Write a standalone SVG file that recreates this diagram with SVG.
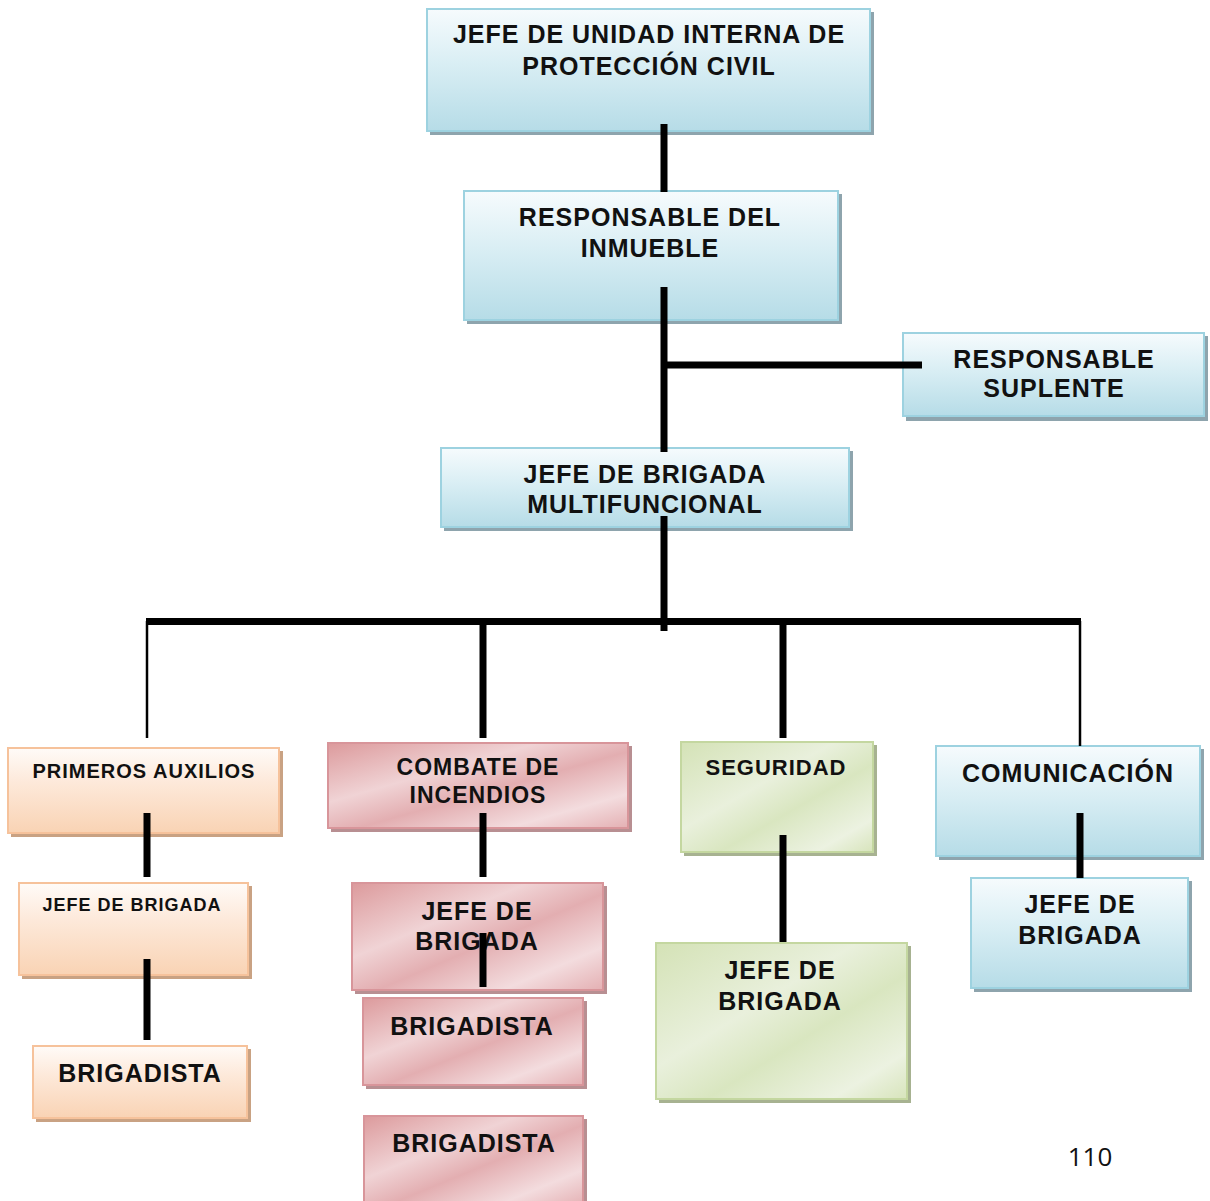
<svg xmlns="http://www.w3.org/2000/svg" width="1210" height="1201" viewBox="0 0 1210 1201">
<defs>
<linearGradient id="gBlue" x1="0" y1="0" x2="0" y2="1">
<stop offset="0" stop-color="#f6fbfd"/><stop offset="0.45" stop-color="#d9eef4"/><stop offset="1" stop-color="#b6dce7"/>
</linearGradient>
<linearGradient id="gOrange" x1="0" y1="0" x2="0" y2="1">
<stop offset="0" stop-color="#fffbf8"/><stop offset="0.4" stop-color="#fde9da"/><stop offset="1" stop-color="#f9d3b4"/>
</linearGradient>
<linearGradient id="gRed" x1="0" y1="0" x2="1" y2="1">
<stop offset="0" stop-color="#dc9a9c"/><stop offset="0.35" stop-color="#f0d3d5"/><stop offset="0.55" stop-color="#e3aeb1"/><stop offset="0.8" stop-color="#f3dcde"/><stop offset="1" stop-color="#e4b0b3"/>
</linearGradient>
<linearGradient id="gGreen" x1="0" y1="0" x2="1" y2="1">
<stop offset="0" stop-color="#d4e2b6"/><stop offset="0.4" stop-color="#e9f0dc"/><stop offset="0.6" stop-color="#d9e6c0"/><stop offset="0.85" stop-color="#ecf2e1"/><stop offset="1" stop-color="#d7e4bb"/>
</linearGradient>
</defs>
<style>
.t{font-family:"Liberation Sans",Arial,sans-serif;font-weight:bold;fill:#111;text-anchor:middle;letter-spacing:1px}
.blue{fill:url(#gBlue);stroke:#9dd2e0;stroke-width:2}
.orange{fill:url(#gOrange);stroke:#f6c29b;stroke-width:2}
.red{fill:url(#gRed);stroke:#d8959a;stroke-width:2}
.green{fill:url(#gGreen);stroke:#c4d7a0;stroke-width:2}
.sb{fill:#8ea4ad}.so{fill:#c9a283}.sr{fill:#b88f92}.sg{fill:#a7b291}
.c{stroke:#000;stroke-width:7;fill:none}
.cn{stroke:#000;stroke-width:2.5;fill:none}
</style>
<rect width="1210" height="1201" fill="#fff"/>

<g id="jefe-unidad">
<rect class="sb" x="430" y="12" width="444" height="123"/>
<rect class="blue" x="427" y="9" width="443" height="122"/>
<text class="t" font-size="25" x="649" y="43">JEFE DE UNIDAD INTERNA DE</text>
<text class="t" font-size="25" x="649" y="75">PROTECCIÓN CIVIL</text>
</g>

<g id="responsable-inmueble">
<rect class="sb" x="467" y="194" width="375" height="130"/>
<rect class="blue" x="464" y="191" width="374" height="129"/>
<text class="t" font-size="25" x="650" y="226">RESPONSABLE DEL</text>
<text class="t" font-size="25" x="650" y="257">INMUEBLE</text>
</g>

<g id="responsable-suplente">
<rect class="sb" x="906" y="336" width="302" height="85"/>
<rect class="blue" x="903" y="333" width="301" height="83"/>
<text class="t" font-size="25" x="1054" y="368">RESPONSABLE</text>
<text class="t" font-size="25" x="1054" y="397">SUPLENTE</text>
</g>

<g id="jefe-multifuncional">
<rect class="sb" x="444" y="451" width="409" height="80"/>
<rect class="blue" x="441" y="448" width="408" height="79"/>
<text class="t" font-size="25" x="645" y="483">JEFE DE BRIGADA</text>
<text class="t" font-size="25" x="645" y="513">MULTIFUNCIONAL</text>
</g>

<g id="primeros-auxilios">
<rect class="so" x="11" y="751" width="272" height="86"/>
<rect class="orange" x="8" y="748" width="271" height="85"/>
<text class="t" font-size="20" x="144" y="778">PRIMEROS AUXILIOS</text>
</g>

<g id="pa-jefe">
<rect class="so" x="22" y="886" width="230" height="93"/>
<rect class="orange" x="19" y="883" width="229" height="92"/>
<text class="t" font-size="18" x="132" y="911">JEFE DE BRIGADA</text>
</g>

<g id="pa-brigadista">
<rect class="so" x="36" y="1049" width="215" height="73"/>
<rect class="orange" x="33" y="1046" width="214" height="72"/>
<text class="t" font-size="25" x="140" y="1082">BRIGADISTA</text>
</g>

<g id="combate-incendios">
<rect class="sr" x="331" y="746" width="301" height="86"/>
<rect class="red" x="328" y="743" width="300" height="85"/>
<text class="t" font-size="23" x="478" y="775">COMBATE DE</text>
<text class="t" font-size="23" x="478" y="803">INCENDIOS</text>
</g>

<g id="ci-jefe">
<rect class="sr" x="355" y="886" width="252" height="108"/>
<rect class="red" x="352" y="883" width="251" height="107"/>
<text class="t" font-size="25" x="477" y="920">JEFE DE</text>
<text class="t" font-size="25" x="477" y="950">BRIGADA</text>
</g>

<g id="ci-brigadista-1">
<rect class="sr" x="366" y="1001" width="221" height="88"/>
<rect class="red" x="363" y="998" width="220" height="87"/>
<text class="t" font-size="25" x="472" y="1035">BRIGADISTA</text>
</g>

<g id="ci-brigadista-2">
<rect class="sr" x="367" y="1119" width="220" height="90"/>
<rect class="red" x="364" y="1116" width="219" height="90"/>
<text class="t" font-size="25" x="474" y="1152">BRIGADISTA</text>
</g>

<g id="seguridad">
<rect class="sg" x="684" y="745" width="193" height="111"/>
<rect class="green" x="681" y="742" width="192" height="110"/>
<text class="t" font-size="22" x="776" y="775">SEGURIDAD</text>
</g>

<g id="seg-jefe">
<rect class="sg" x="659" y="946" width="252" height="157"/>
<rect class="green" x="656" y="943" width="251" height="156"/>
<text class="t" font-size="25" x="780" y="979">JEFE DE</text>
<text class="t" font-size="25" x="780" y="1010">BRIGADA</text>
</g>

<g id="comunicacion">
<rect class="sb" x="939" y="749" width="265" height="111"/>
<rect class="blue" x="936" y="746" width="264" height="110"/>
<text class="t" font-size="25" x="1068" y="782">COMUNICACIÓN</text>
</g>

<g id="com-jefe">
<rect class="sb" x="974" y="881" width="218" height="111"/>
<rect class="blue" x="971" y="878" width="217" height="110"/>
<text class="t" font-size="25" x="1080" y="913">JEFE DE</text>
<text class="t" font-size="25" x="1080" y="944">BRIGADA</text>
</g>

<g id="connectors">
<line class="c" x1="664" y1="124" x2="664" y2="192"/>
<line class="c" x1="664" y1="287" x2="664" y2="452"/>
<line class="c" x1="664" y1="365" x2="922" y2="365"/>
<line class="c" x1="664" y1="516" x2="664" y2="631"/>
<line class="c" x1="146" y1="621.5" x2="1081" y2="621.5"/>
<line class="cn" x1="147" y1="621" x2="147" y2="738"/>
<line class="c" x1="483" y1="621" x2="483" y2="738"/>
<line class="c" x1="783" y1="621" x2="783" y2="738"/>
<line class="cn" x1="1080" y1="621" x2="1080" y2="746"/>
<line class="c" x1="147" y1="813" x2="147" y2="877"/>
<line class="c" x1="147" y1="959" x2="147" y2="1040"/>
<line class="c" x1="483" y1="813" x2="483" y2="877"/>
<line class="c" x1="483" y1="933" x2="483" y2="987"/>
<line class="c" x1="783" y1="835" x2="783" y2="942"/>
<line class="c" x1="1080" y1="813" x2="1080" y2="878"/>
</g>

<text x="1090" y="1166" font-family="'Open Sans',sans-serif" font-size="26" fill="#111" text-anchor="middle">110</text>
</svg>
